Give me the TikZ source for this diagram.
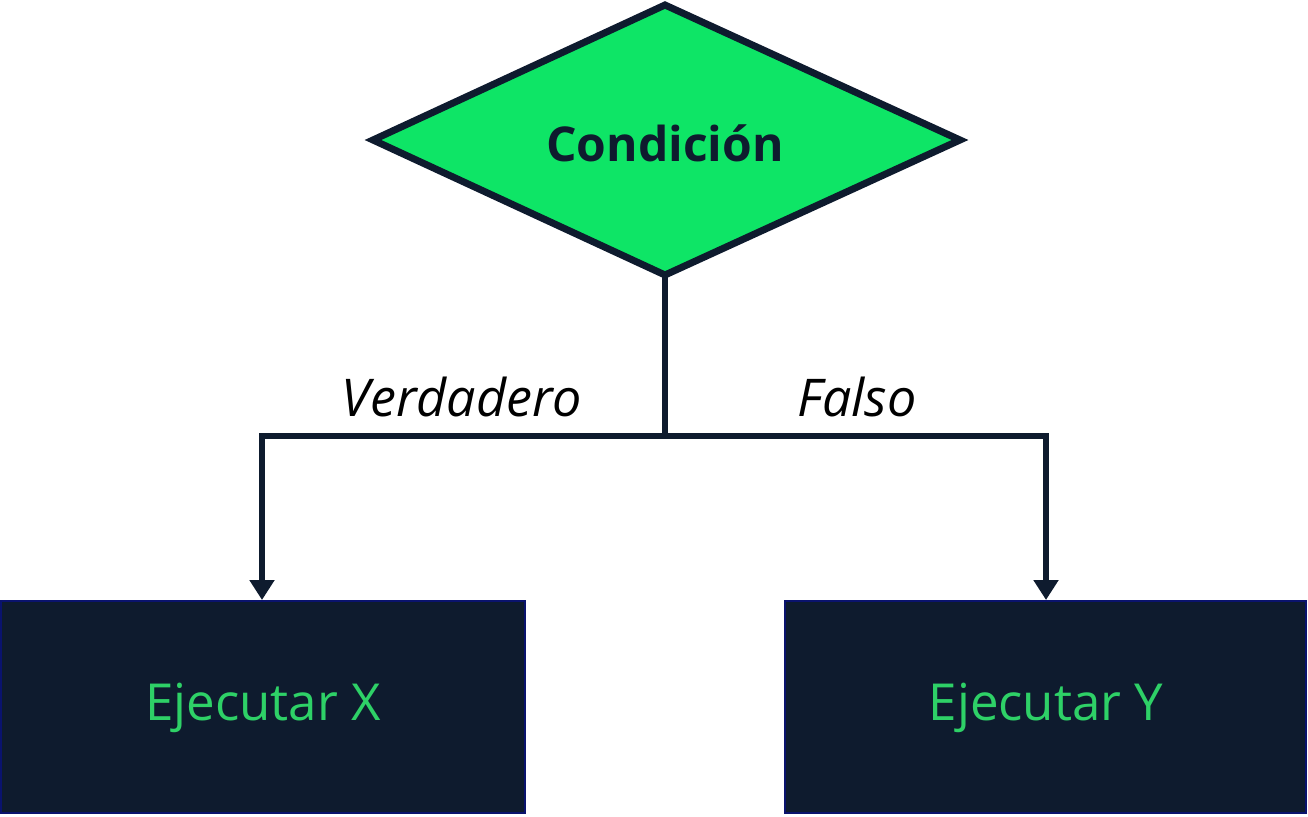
\documentclass[tikz,border=0pt]{standalone}
\usepackage{fontspec}
\setmainfont{Open Sans}
\usetikzlibrary{arrows.meta}
\definecolor{navy}{HTML}{0E1B2E}
\definecolor{lgreen}{HTML}{0EE566}
\definecolor{tgreen}{HTML}{2ED167}
\begin{document}
\begin{tikzpicture}[x=1pt,y=-1pt,
  box/.style={draw=navy!70!blue,line width=2.5pt,fill=navy},
  conn/.style={draw=navy,line width=5.5pt},
  lab/.style={font=\itshape\fontsize{52}{60}\selectfont,text=black}]
\useasboundingbox (0,0) rectangle (1308,816);
\draw[draw=navy,line width=7pt,fill=lgreen,line join=miter] (665,5) -- (960,140) -- (665,275) -- (373,140) -- cycle;
\node[font=\bfseries\fontsize{48}{56}\selectfont,text=navy] (c) at (665,143) {Condición};
\coordinate (cb) at (665,275);
\coordinate (j) at (665,436);
\coordinate (l) at (262,436);
\coordinate (r) at (1046,436);
\draw[box] (1,601) rectangle (525,813);
\draw[box] (785,601) rectangle (1306,813);
\node[text=tgreen,font=\fontsize{51}{60}\selectfont] (x) at (263,708) {Ejecutar X};
\node[text=tgreen,font=\fontsize{51}{60}\selectfont] (y) at (1046,708) {Ejecutar Y};
\draw[conn] (cb) -- (j);
\draw[conn,-{Triangle[length=20pt,width=24pt]}] (j) -- (l) -- (262,600);
\draw[conn,-{Triangle[length=20pt,width=24pt]}] (j) -- (r) -- (1046,600);
\node[lab] at (462,397) {Verdadero};
\node[lab] at (857,397) {Falso};
\end{tikzpicture}
\end{document}
